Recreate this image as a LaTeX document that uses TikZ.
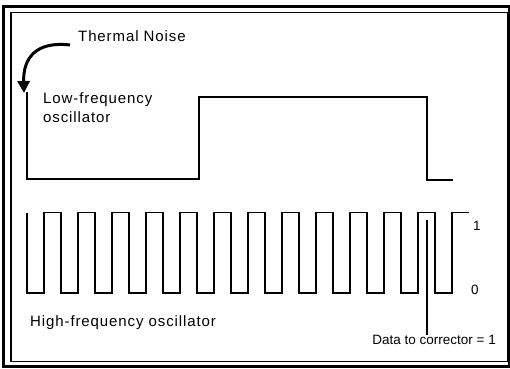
\documentclass[tikz,border=0pt]{standalone}
\usepackage{fontspec}
\setmainfont{Liberation Sans}
\newfontfamily\spacedfont[LetterSpace=6]{Liberation Sans}
\usetikzlibrary{arrows.meta}
\tikzset{
  lbl/.style={inner sep=0pt, anchor=base west, font=\spacedfont\fontsize{15}{18}\selectfont},
  smalllbl/.style={inner sep=0pt, font=\fontsize{13.5}{16}\selectfont},
  wave/.style={line width=1.5pt, line join=miter},
  frameouter/.style={line width=2.4pt},
  frameinner/.style={line width=1.5pt},
  noisearrow/.style={line width=3pt, -{Triangle[length=12pt,width=12pt]}},
  pointer/.style={line width=1.2pt}
}
\begin{document}
\begin{tikzpicture}[x=1pt,y=-1pt]
\useasboundingbox (0,0) rectangle (510,368);
\fill[white] (0,0) rectangle (510,368);
% frame
\draw[frameouter] (3.5,6.5) rectangle (509,366.5);
\draw[frameinner] (11,12.5) rectangle (507.5,361.5);
% labels
\node[lbl] (thermal) at (78,41) {Thermal Noise};
\node[lbl] (lowf) at (43,103.5) {Low-frequency};
\node[lbl] (lowf2) at (43,122.5) {oscillator};
\node[lbl] (highf) at (30,326.5) {High-frequency oscillator};
\node[smalllbl, anchor=base east] (data) at (496,344) {Data to corrector = 1};
\node[smalllbl, anchor=base west] (one) at (473,230) {1};
\node[smalllbl, anchor=base west] (zero) at (471,294.5) {0};
% low-frequency oscillator
\coordinate (lfstart) at (27,92);
\draw[wave] (lfstart) -- (27,179) -- (199,179) -- (199,97) -- (427,97) -- (427,180) -- (453,180);
% thermal noise arrow
\coordinate (tip) at (24,93);
\draw[noisearrow] ([xshift=-8pt,yshift=-4pt]thermal.base west) .. controls (36,41) and (23,58) .. (tip);
% high-frequency oscillator
\draw[wave] (27,212.5) foreach \k in {0,...,12} { -- ++(0,80.5) -- ++(17,0) -- ++(0,-80.5) -- ++(17,0) };
% pointer to data label
\coordinate (ptop) at (427,220);
\draw[pointer] (ptop) -- (ptop |- data.north) ++(0,-3pt);
\end{tikzpicture}
\end{document}
